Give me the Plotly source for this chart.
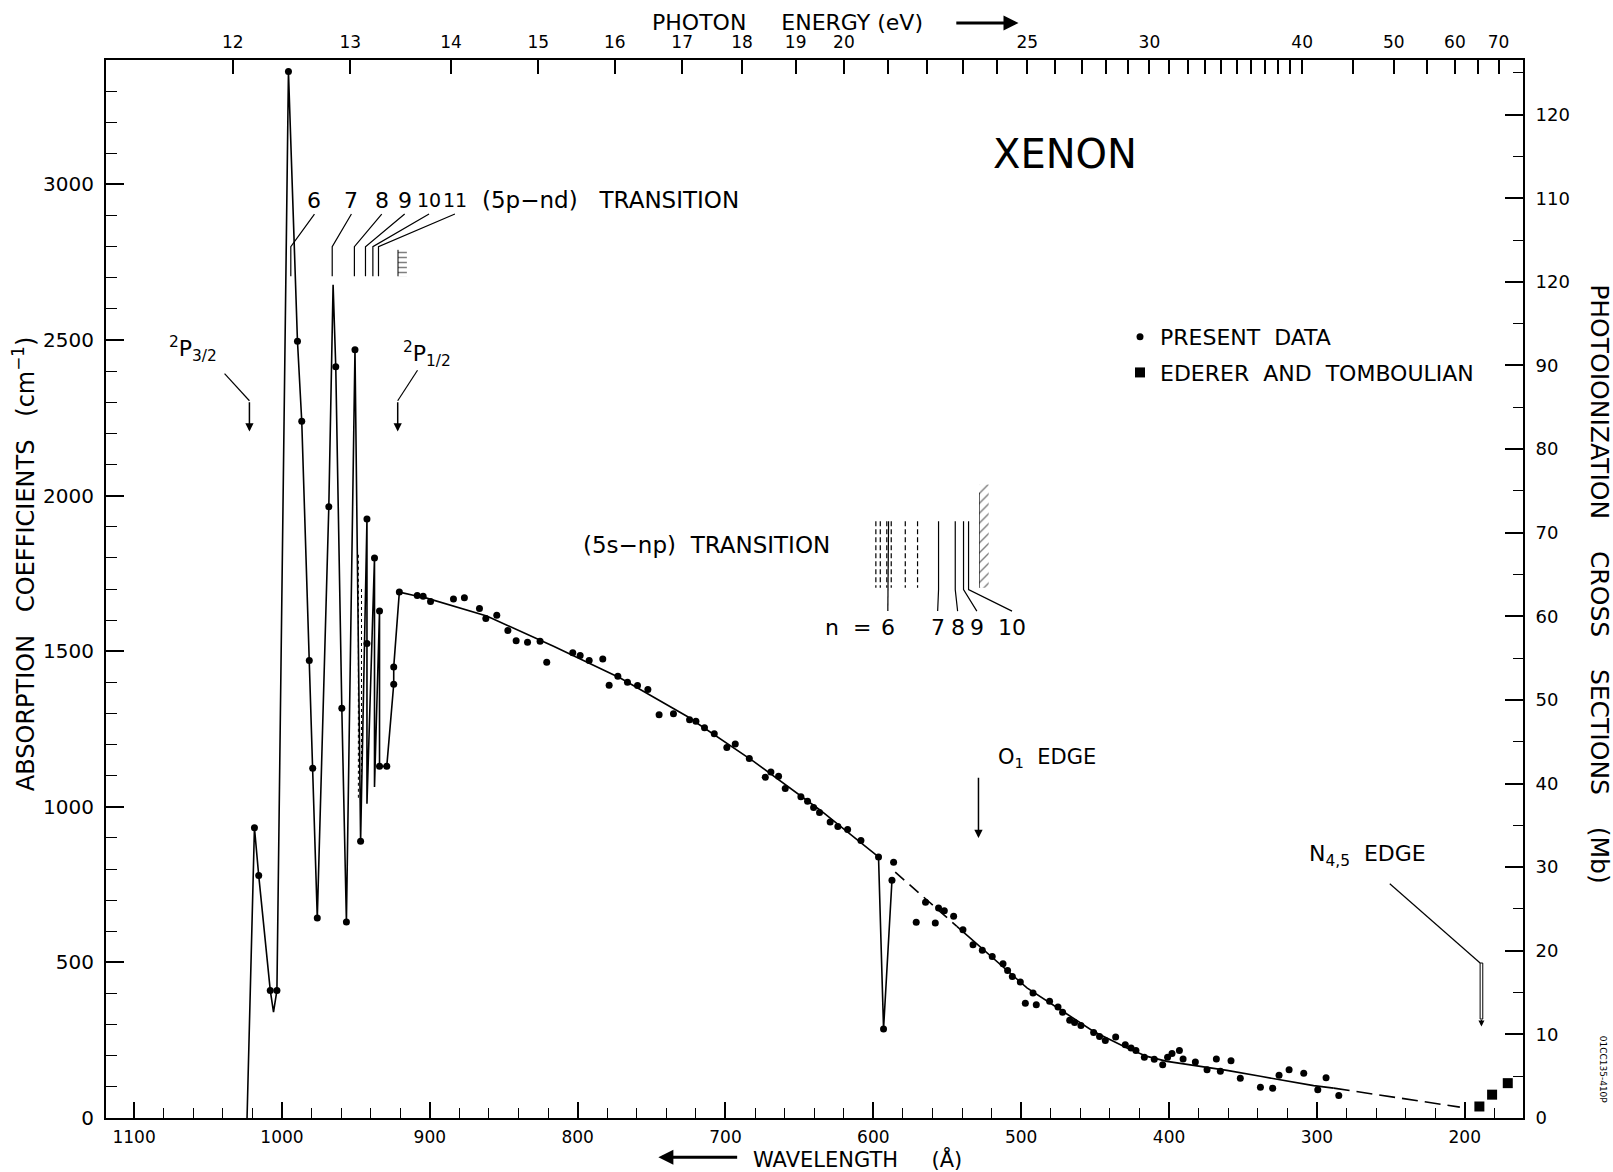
import plotly.graph_objects as go

HC = 12398.4          # eV * Angstrom
MB_TO_CM = 26.87      # 1 Mb -> cm^-1 at STP (Loschmidt)

# ---------------- measured points (wavelength in A, absorption coefficient in cm^-1) ----------------
present_wl = [1018.6, 1015.7, 1007.9, 1003.4, 995.6, 989.5, 986.6, 981.5, 979.2, 976.1,
              968.3, 963.6, 959.5, 956.4, 950.6, 946.8, 942.5, 942.5, 937.4, 934.0,
              934.0, 929.1, 924.4, 924.4, 920.6, 908.5, 904.5, 899.5, 884.0, 876.6,
              866.4, 862.1, 854.7, 847.2, 841.6, 833.9, 825.4, 820.9, 803.3, 798.3,
              792.2, 783.0, 778.7, 772.8, 766.3, 759.5, 752.5, 744.9, 735.2, 724.3,
              720.0, 714.2, 707.6, 699.1, 693.4, 683.9, 673.1, 669.3, 664.1, 659.6,
              649.0, 644.5, 640.4, 636.4, 629.2, 624.0, 617.4, 608.4, 596.5, 593.1,
              587.4, 586.3, 571.0, 564.7, 558.1, 555.9, 552.0, 545.7, 539.4, 532.6,
              526.3, 519.6, 512.3, 509.2, 506.0, 500.6, 497.2, 492.0, 489.8, 480.8,
              475.1, 472.0, 467.2, 463.9, 459.6, 451.0, 447.0, 443.1, 436.1, 429.6,
              425.7, 422.4, 416.7, 410.0, 404.3, 401.0, 398.0, 393.0, 390.5, 382.2,
              374.3, 368.0, 365.3, 358.1, 351.8, 338.2, 329.9, 325.6, 318.8, 308.9,
              299.4, 293.8, 285.2]
present_k = [933, 779, 410, 410, 3363, 2496, 2239, 1470, 1124, 643,
             1964, 2414, 1317, 630, 2469, 889, 1925, 1525, 1800, 1629,
             1130, 1130, 1394, 1449, 1690, 1679, 1677, 1660, 1668, 1672,
             1637, 1605, 1616, 1567, 1534, 1529, 1532, 1465, 1495, 1486,
             1470, 1475, 1391, 1420, 1400, 1390, 1377, 1296, 1299, 1280,
             1275, 1254, 1235, 1191, 1202, 1155, 1095, 1112, 1098, 1059,
             1032, 1018, 998, 982, 951, 937, 927, 892, 839, 286,
             764, 822, 629, 693, 627, 675, 666, 648, 605, 557,
             539, 519, 496, 474, 455, 437, 369, 402, 364, 375,
             357, 340, 314, 307, 297, 275, 262, 249, 260, 235,
             225, 217, 195, 189, 171, 195, 207, 217, 190, 180,
             155, 190, 150, 184, 128, 99, 96, 137, 155, 144,
             91, 129, 72]

# drawn curve (solid part through the autoionization structure)
curve_wl = [1023.6, 1018.6, 1015.7, 1007.9, 1005.7, 1003.4, 995.6, 989.5, 986.6, 981.5,
            979.2, 976.1, 968.3, 965.4, 963.6, 959.5, 956.4, 950.6, 946.8, 942.5,
            942.5, 942.5, 937.4, 937.4, 934.0, 934.0, 929.1, 924.4, 924.4, 920.6,
            910.5, 906.6, 861.5, 816.3, 771.2, 726.1, 681.0, 635.9, 596.5, 593.1,
            587.4]
curve_k = [0, 933, 779, 410, 340, 410, 3363, 2496, 2239, 1470,
           1124, 643, 1964, 2678, 2414, 1317, 630, 2469, 889, 1925,
           1525, 1010, 1800, 1064, 1629, 1130, 1130, 1394, 1449, 1690,
           1679, 1677, 1613, 1516, 1414, 1291, 1146, 989, 839, 286,
           764]
gap1_wl = [585.2, 543.5]
gap1_k = [790, 616]
tail_wl = [543.5, 518.7, 496.1, 473.5, 451.0, 428.4, 414.9, 401.4, 383.3, 360.8,
           338.2, 318.0, 302.2, 288.6]
tail_k = [616, 511, 418, 348, 278, 225, 198, 182, 170, 153,
          134, 118, 104, 96]
gap2_wl = [288.6, 203.3]
gap2_k = [96, 35]

# unresolved resonance lines (thin)
resonance_wl = [948.3, 946.2]
resonance_top = [1810, 1700]
resonance_bottom = [1020, 1040]

# Ederer and Tomboulian
ederer_wl = [190.1, 181.5, 170.9]
ederer_k = [37, 75, 112]

# ---------------- axes ----------------
wl_ticks = list(range(200, 1101, 100))
k_ticks = list(range(0, 3001, 500))
mb_ticks = list(range(0, 121, 10))
mb_ticktext = ["0", "10", "20", "30", "40", "50", "60", "70", "80", "90", "120", "110", "120"]
ev_ticks = list(range(12, 41)) + [45, 50, 55, 60, 65, 70]
ev_labelled = [12, 13, 14, 15, 16, 17, 18, 19, 20, 25, 30, 40, 50, 60, 70]

# ---------------- transition markers ----------------
pnd_levels = ["6", "7", "8", "9", "10", "11"]
pnd_line_wl = [994.0, 966.0, 951.0, 943.5, 938.5, 934.7]
pnd_label_wl = [978.0, 953.0, 932.5, 917.0, 900.5, 883.0]
pnd_limit_wl = [921.5, 915.5]

snp_levels = ["6", "7", "8", "9", "10"]
snp_line_wl = [589.7, 555.9, 544.6, 539.0, 535.6]
snp_label_wl = [590.2, 556.5, 543.0, 530.0, 506.2]
snp_dashed_wl = [598.3, 595.3, 590.9, 587.9, 578.4, 570.1]
snp_limit_wl = [528.1, 522.0]

# edges
p32_wl, p12_wl, o1_wl, n45_wl = 1022.0, 921.7, 528.9, 188.7

X_RANGE = [1119.0, 160.6]
Y_RANGE = [0, 3400]

fig = go.Figure()
solid = dict(color="black", width=1.6)

fig.add_trace(go.Scatter(x=curve_wl, y=curve_k, mode="lines", line=solid,
                         showlegend=False, hoverinfo="skip"))
fig.add_trace(go.Scatter(x=gap1_wl, y=gap1_k, mode="lines",
                         line=dict(color="black", width=1.6, dash="12px,7px"),
                         showlegend=False, hoverinfo="skip"))
fig.add_trace(go.Scatter(x=tail_wl, y=tail_k, mode="lines", line=solid,
                         showlegend=False, hoverinfo="skip"))
fig.add_trace(go.Scatter(x=gap2_wl, y=gap2_k, mode="lines",
                         line=dict(color="black", width=1.6, dash="16px,7px"),
                         showlegend=False, hoverinfo="skip"))

rx, ry = [], []
for w, t, b in zip(resonance_wl, resonance_top, resonance_bottom):
    rx += [w, w, None]
    ry += [t, b, None]
fig.add_trace(go.Scatter(x=rx, y=ry, mode="lines",
                         line=dict(color="black", width=1, dash="dot"),
                         showlegend=False, hoverinfo="skip"))

fig.add_trace(go.Scatter(x=present_wl, y=present_k, mode="markers",
                         marker=dict(color="black", size=7, symbol="circle"),
                         name="PRESENT&nbsp;&nbsp;DATA", legendgroup="a"))
fig.add_trace(go.Scatter(x=ederer_wl, y=ederer_k, mode="markers",
                         marker=dict(color="black", size=10, symbol="square"),
                         name="EDERER&nbsp;&nbsp;AND&nbsp;&nbsp;TOMBOULIAN", legendgroup="b"))

# 5p-nd marker lines
px_, py_ = [], []
for lw, lab in zip(pnd_line_wl, pnd_label_wl):
    px_ += [lw, lw, lab, None]
    py_ += [2705, 2800, 2905, None]
fig.add_trace(go.Scatter(x=px_, y=py_, mode="lines", line=dict(color="black", width=1.2),
                         showlegend=False, hoverinfo="skip"))
fig.add_trace(go.Scatter(x=[pnd_limit_wl[0], pnd_limit_wl[1], pnd_limit_wl[1], pnd_limit_wl[0], pnd_limit_wl[0]],
                         y=[2705, 2705, 2790, 2790, 2705], mode="lines", fill="toself",
                         line=dict(width=0, color="black"), fillcolor="white",
                         fillpattern=dict(shape="-", fgcolor="black", bgcolor="white", size=5, solidity=0.3),
                         showlegend=False, hoverinfo="skip"))
fig.add_trace(go.Scatter(x=[pnd_limit_wl[0], pnd_limit_wl[0]], y=[2705, 2790], mode="lines",
                         line=dict(color="black", width=1), showlegend=False, hoverinfo="skip"))

# 5s-np marker lines
dx_, dy_ = [], []
for w in snp_dashed_wl:
    dx_ += [w, w, None]
    dy_ += [1918, 1704, None]
fig.add_trace(go.Scatter(x=dx_, y=dy_, mode="lines",
                         line=dict(color="black", width=1.2, dash="5px,3px"),
                         showlegend=False, hoverinfo="skip"))
sx_, sy_ = [], []
for lw, lab in zip(snp_line_wl, snp_label_wl):
    sx_ += [lw, lw, lab, None]
    sy_ += [1918, 1698, 1629, None]
sx_ += [snp_limit_wl[0], snp_limit_wl[0], None]
sy_ += [1704, 2010, None]
fig.add_trace(go.Scatter(x=sx_, y=sy_, mode="lines", line=dict(color="black", width=1.2),
                         showlegend=False, hoverinfo="skip"))
fig.add_trace(go.Scatter(x=[snp_limit_wl[0], snp_limit_wl[1], snp_limit_wl[1], snp_limit_wl[0], snp_limit_wl[0]],
                         y=[1704, 1704, 2036, 2036, 1704], mode="lines", fill="toself",
                         line=dict(width=0, color="black"), fillcolor="white",
                         fillpattern=dict(shape="/", fgcolor="black", bgcolor="white", size=7, solidity=0.2),
                         showlegend=False, hoverinfo="skip"))

# leader lines for edge arrows
lx = [1038.8, p32_wl, None, 908.3, p12_wl, None, 250.7, n45_wl + 0.9, None]
ly = [2392, 2305, None, 2403, 2305, None, 753, 498, None]
fig.add_trace(go.Scatter(x=lx, y=ly, mode="lines", line=dict(color="black", width=1.2),
                         showlegend=False, hoverinfo="skip"))

# dummy trace to activate secondary axes
fig.add_trace(go.Scatter(x=[1000], y=[0], xaxis="x2", yaxis="y2", mode="markers",
                         marker=dict(opacity=0), showlegend=False, hoverinfo="skip"))

# hollow N4,5 arrow shaft
fig.add_shape(type="rect", x0=n45_wl + 0.9, x1=n45_wl - 0.9, y0=318, y1=498,
              line=dict(color="black", width=1), fillcolor="white")

ann = []


def note(text, x, y, size=21, xref="x", yref="y", **kw):
    d = dict(text=text, x=x, y=y, xref=xref, yref=yref, showarrow=False,
             xanchor="center", yanchor="middle",
             font=dict(size=size, color="black", family="DejaVu Sans"))
    d.update(kw)
    ann.append(d)


def arrow(x, y, ax, ay, width=1.5, head=2, size=1.1):
    ann.append(dict(x=x, y=y, ax=ax, ay=ay, xref="x", yref="y", axref="x", ayref="y",
                    text="", showarrow=True, arrowhead=head, arrowsize=size,
                    arrowwidth=width, arrowcolor="black"))


for lab, w in zip(pnd_levels, pnd_label_wl):
    note(lab, w, 2950, size=22 if len(lab) == 1 else 19)
note("(5p−nd)&nbsp;&nbsp;&nbsp;TRANSITION", 866, 2950, size=23, xanchor="left")

for lab, w in zip(snp_levels, snp_label_wl):
    note(lab, w, 1575, size=22)
note("n&nbsp;&nbsp;=", 617, 1575, size=22)
note("(5s−np)&nbsp;&nbsp;TRANSITION", 797.6, 1843, size=23, xanchor="left")

note("XENON", 470.5, 3099, size=40)
note("<sup>2</sup>P<sub>3/2</sub>", 1060, 2470, size=22)
note("<sup>2</sup>P<sub>1/2</sub>", 902, 2455, size=22)
arrow(p32_wl, 2206, p32_wl, 2305)
arrow(p12_wl, 2206, p12_wl, 2305)

note("O<sub>1</sub>&nbsp;&nbsp;EDGE", 517, 1158, size=21, xanchor="left")
arrow(o1_wl, 900, o1_wl, 1098)
note("N<sub>4,5</sub>&nbsp;&nbsp;EDGE", 306.7, 845, size=22, xanchor="left")
arrow(n45_wl, 294, n45_wl, 320, width=1.2, head=2, size=1.0)

# axis titles
note("ABSORPTION&nbsp;&nbsp;&nbsp;COEFFICIENTS&nbsp;&nbsp;&nbsp;(cm<sup>−1</sup>)", -0.0574, 1782, size=24,
     xref="paper", textangle=-90)
note("PHOTOIONIZATION&nbsp;&nbsp;&nbsp;&nbsp;CROSS&nbsp;&nbsp;&nbsp;&nbsp;SECTIONS&nbsp;&nbsp;&nbsp;&nbsp;(Mb)",
     1.054, 1717, size=25, xref="paper", textangle=90)
note("01CC135-410P", 1.0565, 155, size=9, xref="paper", textangle=90)
note("WAVELENGTH&nbsp;&nbsp;&nbsp;&nbsp;&nbsp;(Å)", 682.7, -0.039, size=21, yref="paper", xanchor="left")
note("PHOTON&nbsp;&nbsp;&nbsp;&nbsp;&nbsp;ENERGY&nbsp;(eV)", 751, 1.035, size=22, yref="paper", xanchor="left")
ann.append(dict(x=745.4, y=-0.037, ax=691.1, ay=0, xref="x", yref="paper", axref="x", ayref="pixel",
                text="", showarrow=True, arrowhead=2, arrowsize=1.0, arrowwidth=3, arrowcolor="black"))
ann.append(dict(x=501.8, y=1.035, ax=544.9, ay=0, xref="x", yref="paper", axref="x", ayref="pixel",
                text="", showarrow=True, arrowhead=2, arrowsize=1.0, arrowwidth=3, arrowcolor="black"))

common = dict(showgrid=False, zeroline=False, showline=True, linecolor="black", linewidth=2,
              ticks="inside", tickcolor="black", tickwidth=1.5)

ev_major = [e for e in ev_ticks if e in ev_labelled]
ev_minor = [e for e in ev_ticks if e not in ev_labelled]

fig.update_layout(
    width=1613, height=1172,
    margin=dict(l=106, r=90, t=60, b=54),
    paper_bgcolor="white", plot_bgcolor="white",
    font=dict(family="DejaVu Sans", color="black", size=18),
    showlegend=True,
    legend=dict(x=0.7156, y=0.758, xanchor="left", yanchor="top",
                font=dict(size=22, family="DejaVu Sans"), traceorder="grouped",
                tracegroupgap=4, bgcolor="rgba(0,0,0,0)", itemwidth=30),
    xaxis=dict(range=X_RANGE, tickvals=wl_ticks, ticklen=16, tickfont=dict(size=17),
               ticklabelstandoff=3,
               minor=dict(dtick=20, tick0=0, ticks="inside", ticklen=10, tickwidth=1.2,
                          tickcolor="black", showgrid=False), **common),
    xaxis2=dict(range=X_RANGE, overlaying="x", side="top", anchor="y",
                tickmode="array", tickvals=[HC / e for e in ev_major],
                ticktext=[str(e) for e in ev_major],
                ticklen=14, tickfont=dict(size=17), ticklabelstandoff=3,
                minor=dict(tickmode="array", tickvals=[HC / e for e in ev_minor], ticks="inside",
                           ticklen=14, tickwidth=1.5, tickcolor="black", showgrid=False),
                **common),
    yaxis=dict(range=Y_RANGE, tickvals=k_ticks, ticklen=18, tickfont=dict(size=20),
               ticklabelstandoff=6,
               minor=dict(dtick=100, tick0=0, ticks="inside", ticklen=11, tickwidth=1.2,
                          tickcolor="black", showgrid=False), **common),
    yaxis2=dict(range=[Y_RANGE[0] / MB_TO_CM, Y_RANGE[1] / MB_TO_CM], overlaying="y", side="right",
                anchor="x", tickvals=mb_ticks, ticktext=mb_ticktext, ticklen=18,
                tickfont=dict(size=18), ticklabelstandoff=7,
                minor=dict(dtick=5, tick0=0, ticks="inside", ticklen=10, tickwidth=1.2,
                           tickcolor="black", showgrid=False), **common),
    annotations=ann,
)

fig.write_html("out.html", config={"displayModeBar": False},
               post_script="document.body.style.margin='0px';")
